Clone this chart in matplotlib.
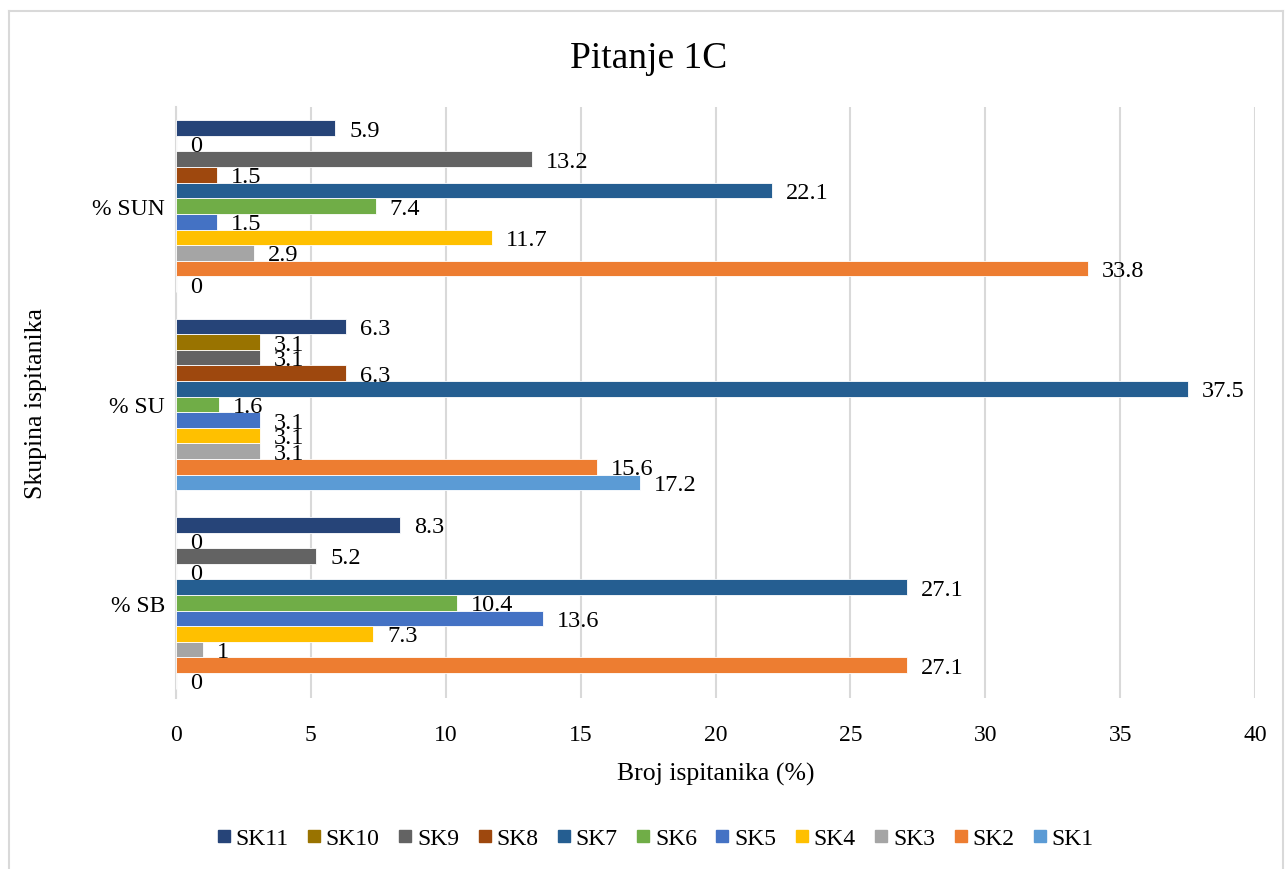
import matplotlib
matplotlib.use('Agg')
import matplotlib.pyplot as plt
from matplotlib.lines import Line2D
import numpy as np

plt.rcParams['font.family'] = ['Liberation Serif', 'DejaVu Serif']

groups = ['% SB', '% SU', '% SUN']
series = ['SK1', 'SK2', 'SK3', 'SK4', 'SK5', 'SK6', 'SK7', 'SK8', 'SK9', 'SK10', 'SK11']
colours = ['#5B9BD5', '#ED7D31', '#A5A5A5', '#FFC000', '#4472C4', '#70AD47',
           '#255E91', '#9E480E', '#636363', '#997300', '#264478']

# values per series, ordered as groups (SB, SU, SUN)
sk1 = [0, 17.2, 0]
sk2 = [27.1, 15.6, 33.8]
sk3 = [1, 3.1, 2.9]
sk4 = [7.3, 3.1, 11.7]
sk5 = [13.6, 3.1, 1.5]
sk6 = [10.4, 1.6, 7.4]
sk7 = [27.1, 37.5, 22.1]
sk8 = [0, 6.3, 1.5]
sk9 = [5.2, 3.1, 13.2]
sk10 = [0, 3.1, 0]
sk11 = [8.3, 6.3, 5.9]
values = [sk1, sk2, sk3, sk4, sk5, sk6, sk7, sk8, sk9, sk10, sk11]

fig = plt.figure(figsize=(12.85, 8.7), dpi=100)
ax = fig.add_axes([0.137, 0.1966, 0.8397, 0.6793])

y = np.arange(len(groups))
h = 0.0787
for i, (name, vals, col) in enumerate(zip(series, values, colours)):
    pos = y + (i - 5) * h
    ax.barh(pos, vals, height=h, color=col, edgecolor='white', linewidth=0.6,
            label=name, zorder=3)
    for p, v in zip(pos, vals):
        ax.annotate('%g' % v, xy=(v, p), xytext=(14, -2),
                    textcoords='offset pixels',
                    ha='left', va='center', fontsize=17.5, zorder=4)

ax.set_xlim(0, 40)
ax.set_ylim(-0.48, 2.5)
ax.set_xticks(range(0, 41, 5))
ax.set_yticks(y)
ax.set_yticklabels(groups)
ax.tick_params(length=0, labelsize=17, pad=8)
ax.tick_params(axis='x', pad=19)
ax.grid(axis='x', color='#D9D9D9', linewidth=1.5, zorder=0)
for s in ['top', 'right', 'bottom']:
    ax.spines[s].set_visible(False)
ax.spines['left'].set_color('#D9D9D9')
ax.spines['left'].set_linewidth(1.5)

ax.set_xlabel('Broj ispitanika (%)', fontsize=18.5, labelpad=12)
ax.set_ylabel('Skupina ispitanika', fontsize=18.5)
ax.yaxis.set_label_coords(-0.1195, 0.5)
fig.text(0.505, 0.932, 'Pitanje 1C', ha='center', va='center', fontsize=27)

handles = [Line2D([], [], marker='s', linestyle='none', markersize=9,
                  color=colours[i]) for i in range(10, -1, -1)]
fig.legend(handles, series[::-1], loc='center', bbox_to_anchor=(0.508, 0.035),
           ncol=11, frameon=False, fontsize=17, handletextpad=0.0,
           columnspacing=0.58, handlelength=1.0)

# outer chart border
border = '#D9D9D9'
fig.add_artist(Line2D([9 / 1285, 9 / 1285], [0, 1 - 12 / 870], color=border,
                      lw=1.5, transform=fig.transFigure))
fig.add_artist(Line2D([9 / 1285, 1283 / 1285], [1 - 12 / 870, 1 - 12 / 870],
                      color=border, lw=1.5, transform=fig.transFigure))
fig.add_artist(Line2D([1283 / 1285, 1283 / 1285], [0, 1 - 12 / 870], color=border,
                      lw=1.5, transform=fig.transFigure))

fig.savefig('out.png', dpi=100)
